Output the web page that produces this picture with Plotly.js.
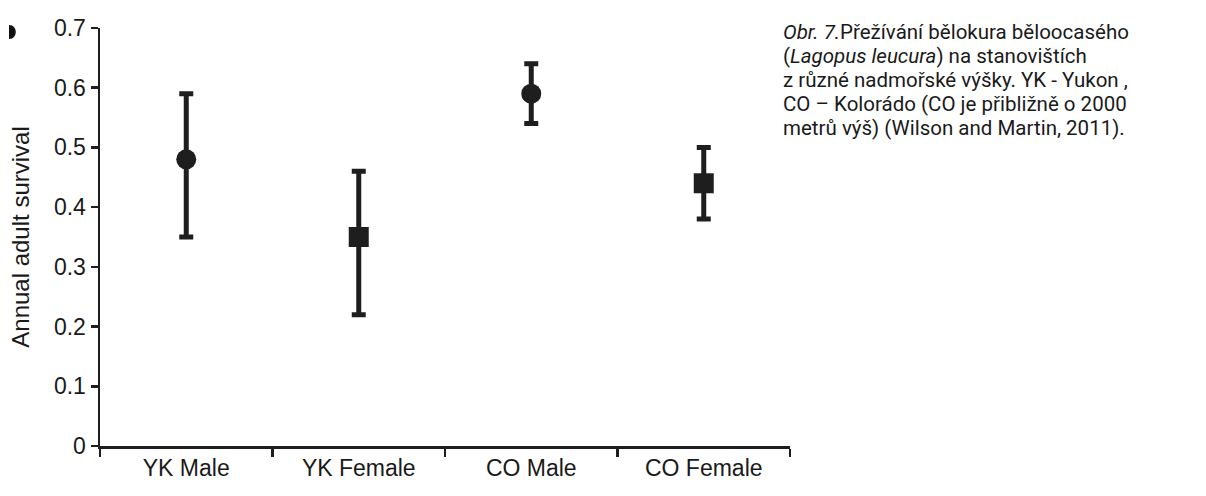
<!DOCTYPE html>
<html>
<head>
<meta charset="utf-8">
<script src="https://cdn.plot.ly/plotly-3.0.1.min.js"></script>
<style>html,body{margin:0;padding:0;background:#fff;}#chart{width:1206px;height:496px;}</style>
</head>
<body>
<div id="chart"></div>
<script>
var categories = ['YK Male', 'YK Female', 'CO Male', 'CO Female'];
var survival = [0.48, 0.35, 0.59, 0.44];
var upperCI = [0.59, 0.46, 0.64, 0.50];
var lowerCI = [0.35, 0.22, 0.54, 0.38];
var symbols = ['circle', 'square', 'circle', 'square'];
var yTicks = [0, 0.1, 0.2, 0.3, 0.4, 0.5, 0.6, 0.7];
var yTickText = ['0', '0.1', '0.2', '0.3', '0.4', '0.5', '0.6', '0.7'];
var captionLines = [
  '<i>Obr. 7.</i>Přežívání bělokura běloocasého',
  '(<i>Lagopus leucura</i>) na stanovištích',
  'z různé nadmořské výšky. YK - Yukon ,',
  'CO – Kolorádo (CO je přibližně o 2000',
  'metrů výš) (Wilson and Martin, 2011).'
];

var ink = '#1e1e1e';
var trace = {
  type: 'scatter',
  mode: 'markers',
  x: categories,
  y: survival,
  marker: {symbol: symbols, size: 20, color: ink, line: {width: 0}},
  error_y: {
    type: 'data',
    symmetric: false,
    array: upperCI.map(function(u, i){ return u - survival[i]; }),
    arrayminus: lowerCI.map(function(l, i){ return survival[i] - l; }),
    color: ink,
    thickness: 5,
    width: 7
  },
  hoverinfo: 'none',
  showlegend: false
};

// pixel -> paper helpers (plot area: x 100..790, y 28..446)
function px(v){ return (v - 100) / 690; }
function py(v){ return (446 - v) / 418; }

var annotations = captionLines.map(function(t, i){
  return {
    xref: 'paper', yref: 'paper',
    x: px(781), y: py(32 + 24 * i),
    xanchor: 'left', yanchor: 'middle',
    text: t, showarrow: false, align: 'left',
    font: {family: 'Roboto, Lato, sans-serif', size: 20.5, color: '#1a1a1a'}
  };
});

var shapes = [{
  type: 'path', xref: 'paper', yref: 'paper', layer: 'above',
  path: 'M ' + px(9) + ' ' + py(25) + ' C ' + px(18) + ' ' + py(25) + ' ' + px(18) + ' ' + py(39) + ' ' + px(9) + ' ' + py(39) + ' Z',
  fillcolor: '#111', line: {width: 0}
}];

var layout = {
  width: 1206, height: 496,
  margin: {l: 100, r: 416, t: 28, b: 50},
  paper_bgcolor: '#fff', plot_bgcolor: '#fff',
  font: {family: 'Liberation Sans, Arial, sans-serif', color: '#1a1a1a'},
  xaxis: {
    type: 'category',
    categoryarray: categories,
    range: [-0.5, 3.5],
    tickson: 'boundaries',
    ticks: 'outside', ticklen: 8, tickwidth: 2.5, tickcolor: ink,
    showline: true, linewidth: 2.5, linecolor: ink,
    showgrid: false, zeroline: false,
    tickfont: {size: 23, color: '#1a1a1a'},
    fixedrange: true
  },
  yaxis: {
    range: [0, 0.7],
    tickmode: 'array', tickvals: yTicks, ticktext: yTickText,
    ticks: 'outside', ticklen: 7, tickwidth: 2.5, tickcolor: ink,
    showline: true, linewidth: 2.5, linecolor: ink,
    showgrid: false, zeroline: false,
    tickfont: {size: 23, color: '#1a1a1a'},
    title: {text: 'Annual adult survival', font: {size: 24, color: '#1a1a1a'}, standoff: 18},
    fixedrange: true
  },
  annotations: annotations,
  shapes: shapes
};

Plotly.newPlot('chart', [trace], layout, {displayModeBar: false, staticPlot: true});
</script>
</body>
</html>
